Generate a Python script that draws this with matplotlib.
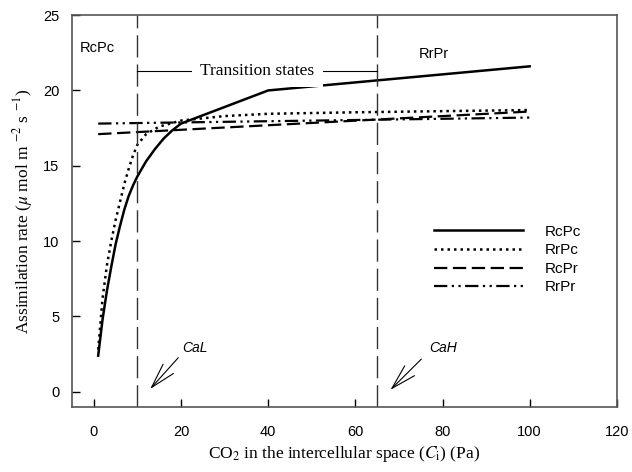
import matplotlib
matplotlib.use("Agg")
import matplotlib.pyplot as plt
import numpy as np

# Data
x_rcpc = [1, 2, 3, 4, 5, 6, 7, 8, 9, 10, 12, 14, 16, 18, 20, 40, 100]
y_rcpc = [2.4, 4.8, 6.7, 8.3, 9.8, 11.0, 12.1, 13.0, 13.7, 14.3, 15.3, 16.1, 16.8, 17.35, 17.8, 20.0, 21.6]
x_rrpc = [1, 2, 3, 4, 5, 6, 7, 8, 9, 10, 12, 15, 20, 30, 40, 60, 100]
y_rrpc = [2.8, 6.2, 8.4, 10.0, 11.4, 12.6, 13.8, 14.8, 15.7, 16.4, 17.1, 17.6, 18.0, 18.3, 18.45, 18.55, 18.7]
x_rcpr = [1, 100]
y_rcpr = [17.1, 18.6]
x_rrpr = [1, 100]
y_rrpr = [17.8, 18.2]
x_bounds = [10, 65]
x_ticks = [0, 20, 40, 60, 80, 100, 120]
y_ticks = [0, 5, 10, 15, 20, 25]

plt.rcParams['mathtext.fontset'] = 'stix'
fig = plt.figure(figsize=(6.32, 4.72), dpi=100)
ax = fig.add_axes([0.114, 0.138, 0.862, 0.830])

ax.plot(x_rcpc, y_rcpc, color='black', lw=1.8, ls='-', label='RcPc')
ax.plot(x_rrpc, y_rrpc, color='black', lw=1.8, ls=(0, (1, 1.6)), label='RrPc')
ax.plot(x_rcpr, y_rcpr, color='black', lw=1.6, ls=(0, (6, 2.5)), label='RcPr')
ax.plot(x_rrpr, y_rrpr, color='black', lw=1.6, ls=(0, (6, 2, 1, 2, 1, 2)), label='RrPr')

for xb in x_bounds:
    ax.axvline(xb, color='#333333', lw=1.0, ls=(0, (16, 5)))

# transition states bracket
ax.plot([10, 65], [21.3, 21.3], color='black', lw=0.8)
ax.text(37.5, 21.3, 'Transition states', ha='center', va='center',
        fontsize=12.5, family='Liberation Serif',
        bbox=dict(facecolor='white', edgecolor='none', pad=6))

ax.text(-3.3, 22.8, 'RcPc', fontsize=10.5, family='Liberation Sans', va='center')
ax.text(74.5, 22.4, 'RrPr', fontsize=10.5, family='Liberation Sans', va='center')

arrowprops = dict(arrowstyle='->,head_length=1.8,head_width=0.5', color='black', lw=0.8)
ax.annotate('', xy=(12.5, 0.05), xytext=(19.8, 2.4), arrowprops=arrowprops)
ax.text(20.3, 2.9, 'CaL', fontsize=10, family='Liberation Sans', style='italic', va='center', ha='left')
ax.annotate('', xy=(67.6, 0.0), xytext=(75.6, 2.3), arrowprops=arrowprops)
ax.text(77.0, 2.9, 'CaH', fontsize=10, family='Liberation Sans', style='italic', va='center', ha='left')

ax.set_xlim(-5, 120)
ax.set_ylim(-1, 25)
ax.set_xticks(x_ticks)
ax.set_yticks(y_ticks)
ax.tick_params(direction='in', length=6, width=1, labelsize=10.5)
ax.tick_params(axis='x', pad=13)
ax.tick_params(axis='y', pad=9)
for lab in ax.get_xticklabels() + ax.get_yticklabels():
    lab.set_family('Liberation Sans')
for sp in ax.spines.values():
    sp.set_color('#555555')
    sp.set_linewidth(1.2)

ax.set_xlabel(r'CO$_2$ in the intercellular space ($C_{\rm i}$) (Pa)', fontsize=12.5,
              family='Liberation Serif', labelpad=4)
ax.set_ylabel(r'Assimilation rate ($\mu$ mol m $^{-2}$ s $^{-1}$)', fontsize=12.5,
              family='Liberation Serif', labelpad=6)

leg = ax.legend(loc='upper left', bbox_to_anchor=(0.64, 0.50), frameon=False,
                handlelength=5.8, labelspacing=0.3, fontsize=11, handletextpad=1.4)
for t in leg.get_texts():
    t.set_family('Liberation Sans')

fig.savefig('out.png', dpi=100)
